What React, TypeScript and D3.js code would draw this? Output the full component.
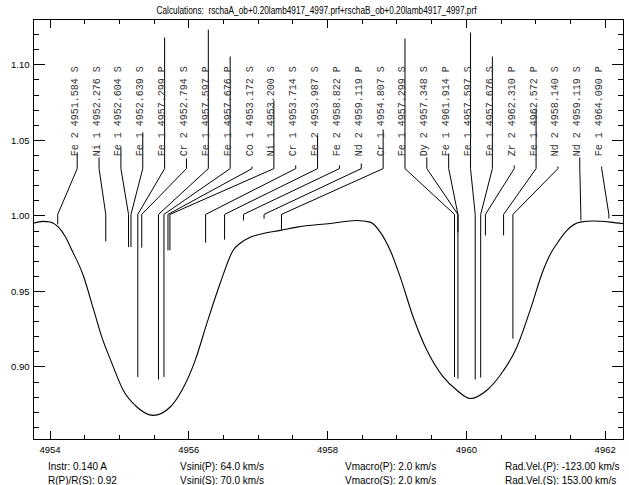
import React from 'react';
import * as d3 from 'd3';

const W = 629;
const H = 485;
const C_KMS = 299792.458;

const titleText = 'Calculations:  rschaA_ob+0.20lamb4917_4997.prf+rschaB_ob+0.20lamb4917_4997.prf';

// Synthetic composite spectrum (wavelength in A, normalised flux)
const spectrumWave = [
  4953.762, 4953.90, 4954.00, 4954.118, 4954.219, 4954.316, 4954.478, 4954.622, 4954.748, 4954.892,
  4955.055, 4955.252, 4955.487, 4955.732, 4955.901, 4956.092, 4956.261, 4956.452, 4956.640, 4956.741,
  4956.885, 4957.072, 4957.317, 4957.558, 4958.037, 4958.422, 4958.614, 4958.758, 4958.902, 4959.046,
  4959.233, 4959.431, 4959.666, 4959.863, 4960.055, 4960.295, 4960.487, 4960.728, 4960.919, 4961.107,
  4961.207, 4961.304, 4961.448, 4961.640, 4961.832, 4962.072, 4962.264,
];
const spectrumFlux = [
  0.9952, 0.9964, 0.9960, 0.9927, 0.9864, 0.9773, 0.9607, 0.9389, 0.9196, 0.9024,
  0.8846, 0.8735, 0.8680, 0.8735, 0.8846, 0.9044, 0.9290, 0.9554, 0.9773, 0.9819,
  0.9858, 0.9884, 0.9904, 0.9926, 0.9950, 0.9970, 0.9959, 0.9893, 0.9773, 0.9596,
  0.9331, 0.9110, 0.8934, 0.8846, 0.8791, 0.8846, 0.8945, 0.9132, 0.9376, 0.9640,
  0.9745, 0.9816, 0.9904, 0.9959, 0.9966, 0.9959, 0.9948,
];

// Line identifications
const lineSpecies = [
  'Fe 2', 'Ni 1', 'Fe 1', 'Fe 1', 'Fe 1', 'Cr 2', 'Fe 1', 'Fe 1', 'Co 1', 'Ni 1',
  'Cr 1', 'Fe 2', 'Fe 2', 'Nd 2', 'Cr 1', 'Fe 1', 'Dy 2', 'Fe 1', 'Fe 1', 'Fe 1',
  'Zr 2', 'Fe 1', 'Nd 2', 'Nd 2', 'Fe 1',
];
const lineRestWave = [
  4951.584, 4952.276, 4952.604, 4952.639, 4957.299, 4952.794, 4957.597, 4957.676, 4953.172, 4953.200,
  4953.714, 4953.987, 4958.822, 4959.119, 4954.807, 4957.299, 4957.348, 4961.914, 4957.597, 4957.676,
  4962.310, 4962.572, 4958.140, 4959.119, 4964.090,
];
const lineStar = [
  'S', 'S', 'S', 'S', 'P', 'S', 'P', 'P', 'S', 'S',
  'S', 'S', 'P', 'P', 'S', 'S', 'S', 'P', 'S', 'S',
  'P', 'P', 'S', 'S', 'P',
];
// upper marker end (flux units) and lower marker end (flux units)
const lineTopFlux = [
  1.042, 1.0387, 1.0453, 1.0552, 1.1181, 1.038, 1.1233, 1.1055, 1.0327, 1.0764,
  1.0334, 1.0532, 1.0334, 1.0347, 1.0572, 1.1174, 1.0387, 1.0413, 1.1214, 1.1055,
  1.0334, 1.0711, 1.0327, 1.0387, 1.0327,
];
const lineBottomFlux = [
  0.9944, 0.9831, 0.9794, 0.9794, 0.8934, 0.979, 0.8917, 0.8934, 0.9772, 0.9772,
  0.9823, 0.9843, 0.997, 0.9981, 0.9909, 0.8934, 0.9891, 0.8923, 0.8917, 0.893,
  0.9871, 0.9871, 0.9188, 0.997, 0.9983,
];

const xDomain = [4953.762, 4962.264];
const yDomain = [0.852, 1.13];
const xMajorTicks = [4954, 4956, 4958, 4960, 4962];
const yMajorTicks = [0.9, 0.95, 1.0, 1.05, 1.1];

const instrA = 0.14;
const radiusRatio = 0.92;
const vsiniP = 64.0;
const vsiniS = 70.0;
const vmacroP = 2.0;
const vmacroS = 2.0;
const radVelP = -123.0;
const radVelS = 153.0;

// layout levels of the identification markers, in flux units
const LABEL_BASE_FLUX = 1.0395;
const KNEE_FLUX = 1.0313;
const FOOT_FLUX = 1.001;

export default function App() {
  const left = 33.5;
  const right = 623.5;
  const top = 19.5;
  const bottom = 439.5;
  const pw = right - left;
  const ph = bottom - top;

  const x = d3.scaleLinear().domain(xDomain).range([left, right]);
  const y = d3.scaleLinear().domain(yDomain).range([bottom, top]);

  const pts = spectrumWave.map((w, i) => [w, spectrumFlux[i]] as [number, number]);
  const linePath = d3
    .line<[number, number]>()
    .x((d) => x(d[0]))
    .y((d) => y(d[1]))
    .curve(d3.curveMonotoneX)(pts) as string;

  const xMinor = d3
    .range(Math.ceil(xDomain[0] * 2), Math.floor(xDomain[1] * 2) + 1)
    .map((v) => v / 2)
    .filter((v) => !xMajorTicks.some((m) => Math.abs(m - v) < 1e-6));
  const yMinor = d3
    .range(Math.ceil(yDomain[0] * 100), Math.floor(yDomain[1] * 100) + 1)
    .map((v) => v / 100)
    .filter((v) => !yMajorTicks.some((m) => Math.abs(m - v) < 1e-6));

  const xMajLen = ph * 0.02;
  const yMajLen = pw * 0.02;

  const n = lineSpecies.length;
  const step = pw / (n + 2);
  const labelX = (i: number) => left + (i + 2) * step;
  const obsWave = (i: number) => {
    const v = lineStar[i] === 'P' ? radVelP : radVelS;
    return lineRestWave[i] * (1 + v / C_KMS);
  };

  const sans = "'Liberation Sans', Arial, Helvetica, sans-serif";
  const mono = "'Liberation Mono', 'DejaVu Sans Mono', monospace";

  const yKnee = y(KNEE_FLUX);
  const yFoot = y(FOOT_FLUX);
  const yLabel = y(LABEL_BASE_FLUX);

  const infoRows = [
    [
      { x: 48, t: `Instr: ${instrA.toFixed(3)} A` },
      { x: 180, t: `Vsini(P): ${vsiniP.toFixed(1)} km/s` },
      { x: 345, t: `Vmacro(P): ${vmacroP.toFixed(1)} km/s` },
      { x: 505, t: `Rad.Vel.(P): ${radVelP.toFixed(2)} km/s` },
    ],
    [
      { x: 48, t: `R(P)/R(S): ${radiusRatio.toFixed(2)}` },
      { x: 180, t: `Vsini(S): ${vsiniS.toFixed(1)} km/s` },
      { x: 345, t: `Vmacro(S): ${vmacroS.toFixed(1)} km/s` },
      { x: 505, t: `Rad.Vel.(S): ${radVelS.toFixed(2)} km/s` },
    ],
  ];

  return (
    <svg
      width={W}
      height={H}
      viewBox={`0 0 ${W} ${H}`}
      style={{ position: 'absolute', left: 0, top: 0, background: '#fff' }}
    >
      <rect x={0} y={0} width={W} height={H} fill="#fff" />
      <text
        x={316.5}
        y={14}
        textAnchor="middle"
        fontFamily={sans}
        fontSize={10}
        fill="#000"
        textLength={320}
        lengthAdjust="spacingAndGlyphs"
        xmlSpace="preserve"
      >
        {titleText}
      </text>

      {/* frame */}
      <rect x={left} y={top} width={pw} height={ph} fill="none" stroke="#000" strokeWidth={1} shapeRendering="crispEdges" />

      {/* ticks */}
      <g stroke="#000" strokeWidth={1} shapeRendering="crispEdges">
        {xMajorTicks.map((t) => (
          <g key={'xm' + t}>
            <line x1={x(t)} x2={x(t)} y1={bottom} y2={bottom - xMajLen} />
            <line x1={x(t)} x2={x(t)} y1={top} y2={top + xMajLen} />
          </g>
        ))}
        {xMinor.map((t) => (
          <g key={'xn' + t}>
            <line x1={x(t)} x2={x(t)} y1={bottom} y2={bottom - xMajLen / 2} />
            <line x1={x(t)} x2={x(t)} y1={top} y2={top + xMajLen / 2} />
          </g>
        ))}
        {yMajorTicks.map((t) => (
          <g key={'ym' + t}>
            <line x1={left} x2={left + yMajLen} y1={y(t)} y2={y(t)} />
            <line x1={right} x2={right - yMajLen} y1={y(t)} y2={y(t)} />
          </g>
        ))}
        {yMinor.map((t) => (
          <g key={'yn' + t}>
            <line x1={left} x2={left + yMajLen / 2} y1={y(t)} y2={y(t)} />
            <line x1={right} x2={right - yMajLen / 2} y1={y(t)} y2={y(t)} />
          </g>
        ))}
      </g>

      {/* tick labels */}
      <g fontFamily={sans} fontSize={9.5} fill="#000">
        {xMajorTicks.map((t) => (
          <text key={'xl' + t} x={x(t)} y={bottom + 13} textAnchor="middle">
            {d3.format('d')(t)}
          </text>
        ))}
        {yMajorTicks.map((t) => (
          <text key={'yl' + t} x={left - 4} y={y(t) + 3.5} textAnchor="end">
            {d3.format('.2f')(t)}
          </text>
        ))}
      </g>

      {/* spectrum */}
      <path d={linePath} fill="none" stroke="#000" strokeWidth={1.1} />

      {/* line identifications */}
      <g stroke="#000" strokeWidth={1} fill="none">
        {lineSpecies.map((s, i) => {
          const lx = labelX(i);
          const wx = x(obsWave(i));
          const yTop = y(lineTopFlux[i]);
          const yBot = y(lineBottomFlux[i]);
          return (
            <path
              key={'id' + i}
              d={`M${lx},${yTop}L${lx},${yKnee}L${wx},${yFoot}L${wx},${yBot}`}
            />
          );
        })}
      </g>
      <g fontFamily={mono} fontSize={10} fill="#333">
        {lineSpecies.map((s, i) => {
          const lx = labelX(i) + 0.5;
          return (
            <text key={'lt' + i} transform={`translate(${lx},${yLabel}) rotate(-90)`} xmlSpace="preserve">
              {`${s} ${lineRestWave[i].toFixed(3)} ${lineStar[i]}`}
            </text>
          );
        })}
      </g>

      {/* info */}
      <g fontFamily={sans} fontSize={10} fill="#000">
        {infoRows.map((row, r) =>
          row.map((c, k) => (
            <text key={`i${r}-${k}`} x={c.x} y={470 + r * 14}>
              {c.t}
            </text>
          ))
        )}
      </g>
    </svg>
  );
}
